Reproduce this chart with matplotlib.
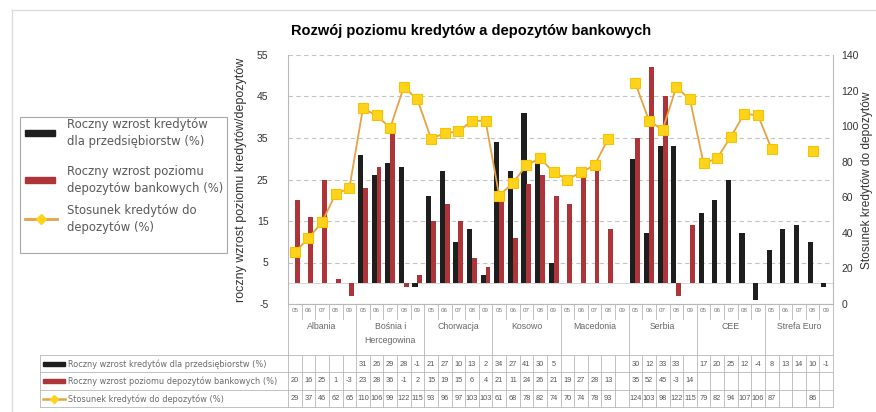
import numpy as np
import matplotlib
matplotlib.use("Agg")
import matplotlib.pyplot as plt
import matplotlib.transforms as mtransforms
from matplotlib.patches import Rectangle

plt.rcParams['font.family'] = ['Liberation Sans', 'DejaVu Sans']
plt.rcParams['axes.unicode_minus'] = False

nan = np.nan

kraje = ['Albania', 'Bośnia i\nHercegowina', 'Chorwacja', 'Kosowo',
         'Macedonia', 'Serbia', 'CEE', 'Strefa Euro']
lata = ['05', '06', '07', '08', '09']

# roczny wzrost kredytów dla przedsiębiorstw (%)
kredyty = [nan, nan, nan, nan, nan,
           31, 26, 29, 28, -1,
           21, 27, 10, 13, 2,
           34, 27, 41, 30, 5,
           nan, nan, nan, nan, nan,
           30, 12, 33, 33, nan,
           17, 20, 25, 12, -4,
           8, 13, 14, 10, -1]

# roczny wzrost poziomu depozytów bankowych (%)
depozyty = [20, 16, 25, 1, -3,
            23, 28, 36, -1, 2,
            15, 19, 15, 6, 4,
            21, 11, 24, 26, 21,
            19, 27, 28, 13, nan,
            35, 52, 45, -3, 14,
            nan, nan, nan, nan, nan,
            nan, nan, nan, nan, nan]

# stosunek kredytów do depozytów (%)
stosunek = [29, 37, 46, 62, 65,
            110, 106, 99, 122, 115,
            93, 96, 97, 103, 103,
            61, 68, 78, 82, 74,
            70, 74, 78, 93, nan,
            124, 103, 98, 122, 115,
            79, 82, 94, 107, 106,
            87, nan, nan, 86, nan]

opisy = ['Roczny wzrost kredytów dla przedsiębiorstw (%)',
         'Roczny wzrost poziomu depozytów bankowych (%)',
         'Stosunek kredytów do depozytów (%)']

c_kred = '#1e1e1e'
c_dep = '#ad3438'
c_lin = '#e6a243'
c_mark = '#ffd31c'
c_grid = '#c4c4c4'
c_tab = '#b8b8b8'

W, H = 876, 412
fig = plt.figure(figsize=(W / 100, H / 100), dpi=100)

ax = fig.add_axes([288 / W, 108 / H, 545 / W, 249 / H])
x = np.arange(len(kredyty))
ax.bar(x - 0.18, kredyty, width=0.37, color=c_kred, zorder=3)
ax.bar(x + 0.18, depozyty, width=0.36, color=c_dep, zorder=3)
ax.set_xlim(-0.5, len(x) - 0.5)
ax.set_ylim(-5, 55)
ax.set_yticks(np.arange(-5, 56, 10))
ax.set_xticks([])
ax.yaxis.grid(True, color=c_grid, lw=0.8, ls=(0, (4, 3)), zorder=0)
ax.axhline(0, color='#d0d0d0', lw=0.6, zorder=1)
ax.tick_params(axis='y', length=0, pad=14, labelsize=7.5, labelcolor='#333333')
for s in ['top', 'right']:
    ax.spines[s].set_visible(False)
for s in ['left', 'bottom']:
    ax.spines[s].set_color(c_tab)
    ax.spines[s].set_linewidth(0.8)

ax2 = ax.twinx()
ax2.plot(x, stosunek, color=c_lin, lw=1.3, marker='s', ms=7.5,
         mfc=c_mark, mec='#f5c400', mew=0.8, zorder=4)
ax2.set_ylim(0, 140)
ax2.set_yticks(np.arange(0, 141, 20))
ax2.tick_params(axis='y', length=0, pad=6, labelsize=7.5, labelcolor='#333333')
for s in ['top', 'left', 'bottom']:
    ax2.spines[s].set_visible(False)
ax2.spines['right'].set_color(c_tab)
ax2.spines['right'].set_linewidth(0.8)

# warstwa w pikselach: ramka, legenda, opisy osi i tabela danych
ov = fig.add_axes([0, 0, 1, 1])
ov.set_xlim(0, W)
ov.set_ylim(H, 0)
ov.set_autoscale_on(False)
ov.axis('off')

ov.plot([12, W], [10, 10], color='#dcdcdc', lw=1)
ov.plot([12, 12], [10, H], color='#dcdcdc', lw=1)

ov.text(471, 31, 'Rozwój poziomu kredytów a depozytów bankowych',
        ha='center', va='center', fontsize=10.5, fontweight='bold')
ov.text(241, 180, 'roczny wzrost poziomu kredytów/depozytów', rotation=90,
        ha='center', va='center', fontsize=9, color='#333333')
ov.text(867, 180, 'Stosunek kredytów do depozytów', rotation=90,
        ha='center', va='center', fontsize=8.6, color='#333333')

# legenda
ov.add_patch(Rectangle((20, 117), 207, 136, fill=False, ec='#a8a8a8', lw=0.8))
leg_txt = ['Roczny wzrost kredytów\ndla przedsiębiorstw (%)',
           'Roczny wzrost poziomu\ndepozytów bankowych (%)',
           'Stosunek kredytów do\ndepozytów (%)']
leg_y = [133, 180, 219]
for k, (t, yy) in enumerate(zip(leg_txt, leg_y)):
    if k < 2:
        ov.add_patch(Rectangle((25, yy - 3), 30, 6, color=[c_kred, c_dep][k]))
    else:
        ov.plot([25, 57], [yy, yy], color=c_lin, lw=2)
        ov.plot([41], [yy], marker='D', ms=5, color=c_mark)
    ov.text(67, yy, t, ha='left', va='center', fontsize=8.4,
            family='DejaVu Sans', color='#5a5a5a', linespacing=1.4)

# tabela pod wykresem
tr = mtransforms.blended_transform_factory(ax.transData, ov.transData)
n = len(x)
lk = dict(color=c_tab, lw=0.6, transform=tr, clip_on=False)
for i in range(n):
    ov.text(i, 311, lata[i % 5], transform=tr, ha='center', va='center',
            fontsize=4.5, color='#777777')
for i in range(n + 1):
    if i % 5 == 0:
        ov.plot([i - 0.5, i - 0.5], [304, 407], **lk)
    else:
        ov.plot([i - 0.5, i - 0.5], [304, 319], **lk)
        ov.plot([i - 0.5, i - 0.5], [355, 407], **lk)
for g, nazwa in enumerate(kraje):
    ov.text(g * 5 + 2, 322, nazwa, transform=tr, ha='center', va='top',
            fontsize=6.3, color='#666666', linespacing=1.7)

rows_y = [364, 381, 399]
for yy in [355, 372, 390, 407]:
    ov.plot([40, 833], [yy, yy], color=c_tab, lw=0.6)
ov.plot([40, 40], [355, 407], color=c_tab, lw=0.6)

for k, (seria, yy) in enumerate(zip([kredyty, depozyty, stosunek], rows_y)):
    if k < 2:
        ov.add_patch(Rectangle((43, yy - 2), 22, 4, color=[c_kred, c_dep][k]))
    else:
        ov.plot([43, 65], [yy, yy], color=c_lin, lw=1.8)
        ov.plot([54], [yy], marker='D', ms=4, color=c_mark)
    ov.text(68, yy, opisy[k], ha='left', va='center', fontsize=5.9,
            family='DejaVu Sans', color='#6a6a6a')
    for i, v in enumerate(seria):
        if not np.isnan(v):
            ov.text(i, yy, str(int(v)), transform=tr, ha='center',
                    va='center', fontsize=5.3, color='#555555')

fig.savefig('out.png', dpi=100)
